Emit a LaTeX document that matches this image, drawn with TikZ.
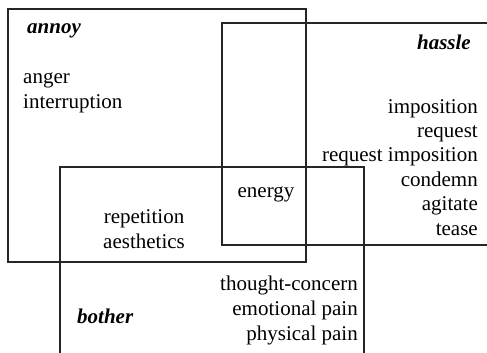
\documentclass[tikz,border=0pt]{standalone}
\usepackage{fontspec}
\setmainfont{Liberation Serif}
\begin{document}
\begin{tikzpicture}[x=1pt,y=-1pt,
  box/.style={draw=black!85,line width=1.2pt},
  word/.style={inner sep=0pt,font=\fontsize{21}{24}\selectfont},
  wl/.style={word,anchor=base west},
  wr/.style={word,anchor=base east},
  wc/.style={word,anchor=base},
  title/.style={word,font=\fontsize{21}{24}\selectfont\bfseries\itshape}]
\useasboundingbox (0,0) rectangle (487,353);
% boxes
\draw[box] (8,9) rectangle (306,262);
\draw[box] (487,23) -- (222,23) -- (222,245) -- (487,245);
\draw[box] (60,353) -- (60,167) -- (364,167) -- (364,353);
% annoy
\node[title,anchor=base west] (annoy) at (27,34) {annoy};
\node[wl] (anger) at (23,83) {anger};
\node[wl] (interr) at (23,108) {interruption};
% hassle
\node[title,anchor=base east] (hassle) at (471,49) {hassle};
\node[wr] (imp) at (478,113) {imposition};
\node[wr] (req) at (478,137) {request};
\node[wr] (reqimp) at (478,161) {request imposition};
\node[wr] (condemn) at (478,186) {condemn};
\node[wr] (agitate) at (478,210) {agitate};
\node[wr] (tease) at (478,235) {tease};
% overlap
\node[wc] (energy) at (266,197) {energy};
\node[wc] (rep) at (144,223) {repetition};
\node[wc] (aes) at (144,248) {aesthetics};
% bother
\node[title,anchor=base west] (bother) at (77,323) {bother};
\node[wr] (thought) at (358,290) {thought-concern};
\node[wr] (emo) at (358,315) {emotional pain};
\node[wr] (phys) at (358,340) {physical pain};
\end{tikzpicture}
\end{document}
